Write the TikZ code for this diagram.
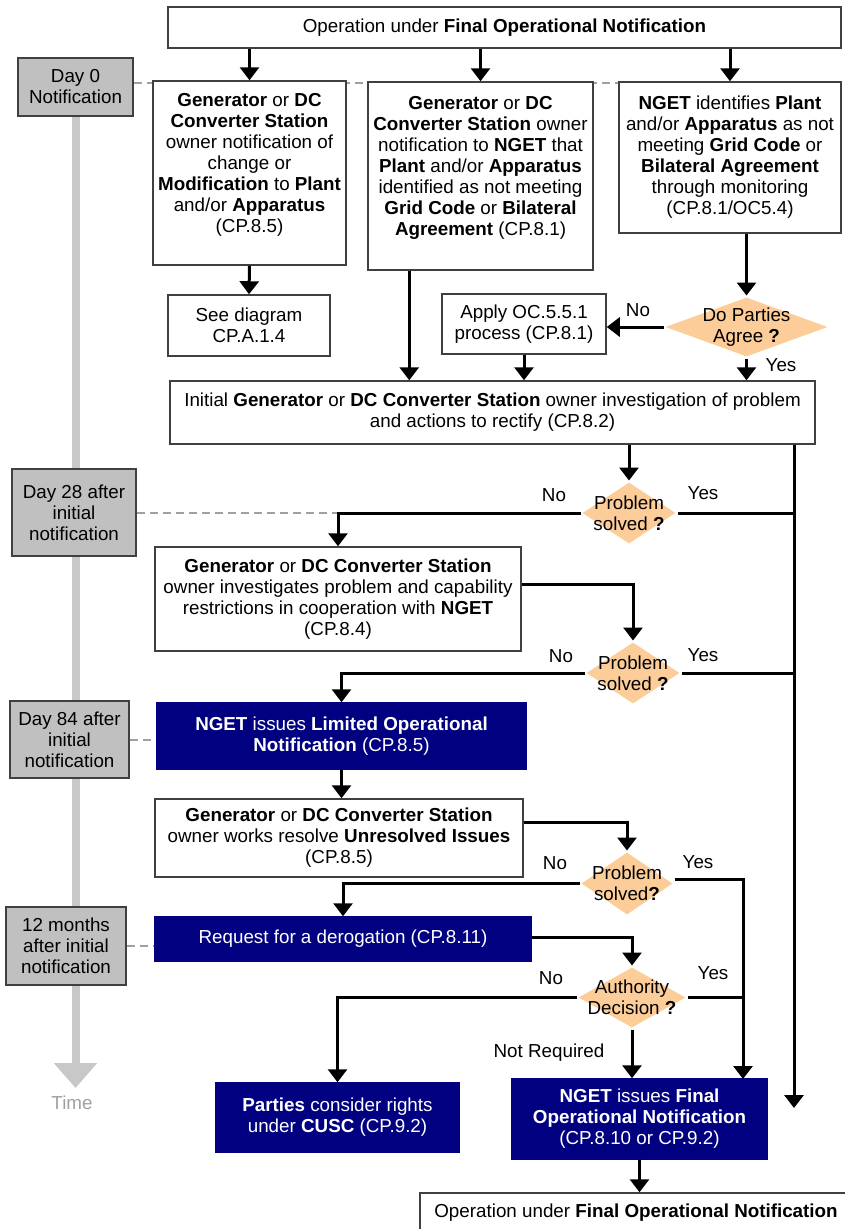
\documentclass[tikz,border=0pt]{standalone}
\usepackage{fontspec}
\setmainfont{Liberation Sans}
\usetikzlibrary{shapes.geometric,arrows.meta,positioning,backgrounds}
\definecolor{navyblue}{RGB}{0,0,128}
\definecolor{daygray}{RGB}{192,192,192}
\definecolor{peach}{RGB}{252,204,153}
\definecolor{boxline}{RGB}{64,64,64}
\definecolor{timegray}{RGB}{200,200,200}
\definecolor{linkgray}{RGB}{160,160,160}

\begin{document}
\begin{tikzpicture}[->,>={Triangle[width=19pt,length=13pt]},line width=3pt,x=1pt,y=-1pt,
    font=\fontsize{18.8}{21}\selectfont,
    main box/.style={rectangle,draw=boxline,line width=1.5pt,fill=white,align=center,inner sep=0pt},
    blue box/.style={main box,draw=navyblue,fill=navyblue,text=white},
    day box/.style={main box,fill=daygray},
    choice node/.style={diamond,fill=peach,inner sep=0pt},
    day link/.style={-,draw=linkgray,line width=2pt,dash pattern=on 8pt off 5pt}]

    \useasboundingbox (0,0) rectangle (845,1229);

    % boxes
    \node[main box,minimum width=673,minimum height=41] (top) at (504.5,27.5) {Operation under \textbf{Final Operational Notification}};
    \node[main box,minimum width=193,minimum height=184] (box1) at (249.5,173) {\textbf{Generator} or \textbf{DC}\\ \textbf{Converter Station}\\ owner notification of\\ change or\\ \textbf{Modification} to \textbf{Plant}\\ and/or \textbf{Apparatus}\\ (CP.8.5)\\ ~};
    \node[main box,minimum width=225,minimum height=188] (box2) at (480.5,176) {\textbf{Generator} or \textbf{DC}\\ \textbf{Converter Station} owner\\ notification to \textbf{NGET} that\\ \textbf{Plant} and/or \textbf{Apparatus}\\ identified as not meeting\\ \textbf{Grid Code} or \textbf{Bilateral}\\ \textbf{Agreement} (CP.8.1)\\ ~};
    \node[main box,minimum width=222,minimum height=151] (box3) at (730,157.5) {\textbf{NGET} identifies \textbf{Plant}\\ and/or \textbf{Apparatus} as not\\ meeting \textbf{Grid Code} or\\ \textbf{Bilateral Agreement}\\ through monitoring\\ (CP.8.1/OC5.4)};
    \node[main box,minimum width=162,minimum height=61] (see) at (249,325.5) {See diagram\\ CP.A.1.4};
    \node[main box,minimum width=164,minimum height=60] (apply) at (524,324) {Apply OC.5.5.1\\ process (CP.8.1)};
    \node[choice node,minimum width=163,minimum height=60,label={[align=center]center:{Do Parties\\Agree \textbf{?}}}] (dec1) at (746.5,327) {};
    \node[main box,minimum width=645,minimum height=63] (initial) at (492.5,412.5) {Initial \textbf{Generator} or \textbf{DC Converter Station} owner investigation of problem\\ and actions to rectify (CP.8.2)};
    \node[choice node,minimum width=94,minimum height=62,label={[align=center]center:{Problem\\solved \textbf{?}}}] (dec2) at (629,513) {};
    \node[main box,minimum width=366,minimum height=104] (box4) at (338,599) {\textbf{Generator} or \textbf{DC Converter Station}\\ owner investigates problem and capability\\ restrictions in cooperation with \textbf{NGET}\\ (CP.8.4)};
    \node[choice node,minimum width=94,minimum height=62,label={[align=center]center:{Problem\\solved \textbf{?}}}] (dec3) at (633,673) {};
    \node[blue box,minimum width=369,minimum height=66] (box5) at (341.5,736) {\textbf{NGET} issues \textbf{Limited Operational}\\ \textbf{Notification} (CP.8.5)};
    \node[main box,minimum width=368,minimum height=78] (box6) at (339,838) {\textbf{Generator} or \textbf{DC Converter Station}\\ owner works resolve \textbf{Unresolved Issues}\\ (CP.8.5)};
    \node[choice node,minimum width=92,minimum height=63,label={[align=center]center:{Problem\\solved\textbf{?}}}] (dec4) at (627,883.5) {};
    \node[blue box,minimum width=376,minimum height=44] (box7) at (343,939) {Request for a derogation (CP.8.11)};
    \node[choice node,minimum width=108,minimum height=61,label={[align=center]center:{Authority\\Decision \textbf{?}}}] (dec5) at (632,997.5) {};
    \node[blue box,minimum width=243,minimum height=69] (box8) at (337.5,1117.5) {\textbf{Parties} consider rights\\ under \textbf{CUSC} (CP.9.2)};
    \node[blue box,minimum width=255,minimum height=80] (box9) at (639.5,1119) {\textbf{NGET} issues \textbf{Final}\\ \textbf{Operational Notification}\\ (CP.8.10 or CP.9.2)};
    \node[main box,minimum width=432,minimum height=40] (final) at (636,1213) {Operation under \textbf{Final Operational Notification}};

    % time marks
    \node[day box,minimum width=115,minimum height=58] (day0) at (75.5,87) {Day 0\\ Notification};
    \node[day box,minimum width=124,minimum height=87] (day28) at (74,512.5) {Day 28 after\\ initial\\ notification};
    \node[day box,minimum width=119,minimum height=77] (day84) at (69.5,739.5) {Day 84 after\\ initial\\ notification};
    \node[day box,minimum width=120,minimum height=78] (day12) at (66,946) {12 months\\ after initial\\ notification};
    \node[text=linkgray] (time) at (72,1103) {Time};
    \coordinate (timeend) at (75.5,1088);

    % branch labels
    \node (no1) at (638,310) {No};
    \node (yes1) at (781,365) {Yes};
    \node (no2) at (554,495) {No};
    \node (yes2) at (703,493) {Yes};
    \node (no3) at (561,656) {No};
    \node (yes3) at (703,655) {Yes};
    \node (no4) at (555,863) {No};
    \node (yes4) at (698,862) {Yes};
    \node (no5) at (551,978) {No};
    \node (yes5) at (713,973) {Yes};
    \node (notreq) at (549,1053) {Not Required};

    \coordinate (rend) at (794,1108);
    \coordinate (yesin) at (743,1079);

    % connectors
    \draw (box1.north |- top.south) -- (box1.north);
    \draw (box2.north |- top.south) -- (box2.north);
    \draw (box3.north |- top.south) -- (box3.north);
    \draw (box1.south) -- (see.north);
    \draw ([xshift=42pt]box2.south west) -- ([xshift=42pt]box2.south west |- initial.north);
    \draw (dec1.north |- box3.south) -- (dec1.north);
    \draw (dec1.west) -- (dec1.west -| apply.east);
    \draw (apply.south) -- (apply.south |- initial.north);
    \draw (dec1.south) -- (dec1.south |- initial.north);
    \draw (dec2.north |- initial.south) -- (dec2.north);
    \draw (rend |- initial.south) -- (rend);
    \draw (dec2.west) -| (box4.north);
    \draw[-] (dec2.east) -- (dec2.east -| rend);
    \draw ([yshift=15pt]box4.east) -| (dec3.north);
    \draw (dec3.west) -| (box5.north);
    \draw[-] (dec3.east) -- (dec3.east -| rend);
    \draw (box5.south) -- (box5.south |- box6.north);
    \draw ([yshift=16pt]box6.east) -| (dec4.north);
    \draw (dec4.west) -| (box7.north);
    \draw ([yshift=4pt]dec4.east) -| (yesin);
    \draw ([yshift=2pt]box7.east) -| (dec5.north);
    \draw (dec5.west) -| (box8.north);
    \draw[-] (dec5.east) -- (dec5.east -| yesin);
    \draw (dec5.south) -- (dec5.south |- box9.north);
    \draw (box9.south) -- (box9.south |- final.north);

    % timeline and day marks behind the boxes
    \begin{scope}[on background layer]
      \draw[-{Triangle[width=42pt,length=25pt]},line width=8pt,draw=timegray] (day0.south) -- (timeend);
      \draw[day link] ([yshift=4pt]day0.east) -- ([yshift=4pt]day0.east -| box3.west);
      \draw[day link] (day28.east) -- (day28.east -| box4.north);
      \draw[day link] (day84.east) -- (day84.east -| box5.west);
      \draw[day link] (day12.east) -- (day12.east -| box7.west);
    \end{scope}
\end{tikzpicture}
\end{document}
